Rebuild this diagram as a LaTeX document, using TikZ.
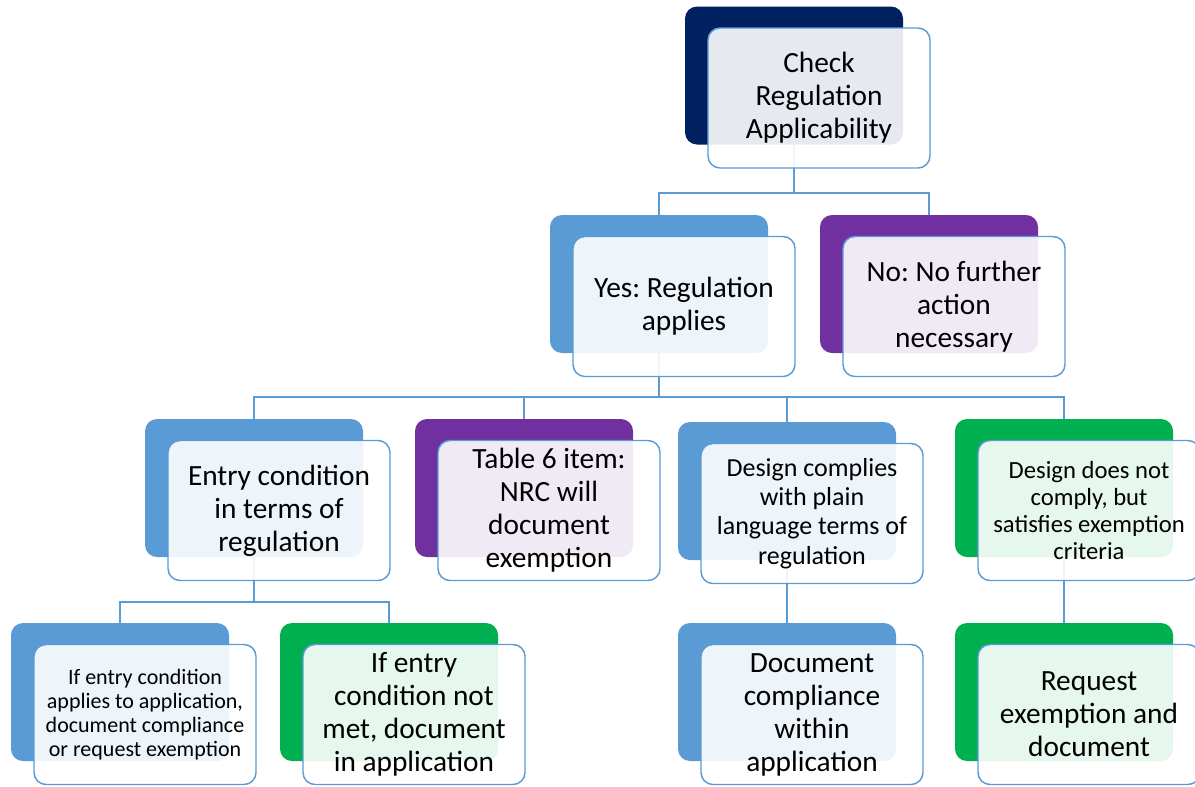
\documentclass[tikz,border=0pt]{standalone}
\usepackage{fontspec}
\setmainfont{Carlito}
\frenchspacing
\usetikzlibrary{positioning,calc}
\definecolor{navyC}{HTML}{002060}
\definecolor{blueC}{HTML}{5B9BD5}
\definecolor{purpC}{HTML}{7030A0}
\definecolor{greenC}{HTML}{00B050}
\definecolor{lineC}{HTML}{5B9BD5}

\begin{document}
\begin{tikzpicture}[x=0.75pt, y=-0.75pt,
    back/.style={rounded corners=9pt, minimum width=163.5pt, minimum height=103.5pt, inner sep=0pt},
    front/.style={draw=lineC, line width=1.1pt, rounded corners=9pt, fill=white, fill opacity=0.9, text opacity=1,
        minimum width=166.5pt, minimum height=105pt, inner sep=0pt, align=center},
    big/.style={font=\fontsize{22}{24.75}\selectfont},
    mid/.style={font=\fontsize{19.5}{22}\selectfont},
    small/.style={font=\fontsize{18.5}{20.25}\selectfont},
    tiny/.style={font=\fontsize{16.5}{18}\selectfont},
    conn/.style={draw=lineC, line width=1.1pt}]
    \useasboundingbox (0,0) rectangle (1195,786);

    % back boxes
    \node[back, fill=navyC] (chkB) at (794,75.5) {};
    \node[back, fill=blueC] (yesB) at (659,284) {};
    \node[back, fill=purpC] (noB) at (929,284) {};
    \node[back, fill=blueC] (entryB) at (254,488) {};
    \node[back, fill=purpC] (tabB) at (524,488) {};
    \node[back, fill=blueC] (compB) at (787,491) {};
    \node[back, fill=greenC] (ncompB) at (1064,488) {};
    \node[back, fill=blueC] (ifappB) at (120,692) {};
    \node[back, fill=greenC] (ifnotB) at (389,692) {};
    \node[back, fill=blueC] (docB) at (787,692) {};
    \node[back, fill=greenC] (reqB) at (1064,692) {};

    % connectors
    \coordinate (barA) at (0,193);
    \coordinate (barB) at (0,397);
    \coordinate (barC) at (0,602);
    \draw[conn] (chkB.south) -- (chkB.south |- barA);
    \draw[conn] (yesB.north) -- (yesB.north |- barA) -- (noB.north |- barA) -- (noB.north);
    \draw[conn] (yesB.south) -- (yesB.south |- barB);
    \draw[conn] (entryB.north) -- (entryB.north |- barB) -- (ncompB.north |- barB) -- (ncompB.north);
    \draw[conn] (tabB.north) -- (tabB.north |- barB);
    \draw[conn] (compB.north) -- (compB.north |- barB);
    \draw[conn] (entryB.south) -- (entryB.south |- barC);
    \draw[conn] (ifappB.north) -- (ifappB.north |- barC) -- (ifnotB.north |- barC) -- (ifnotB.north);
    \draw[conn] (compB.south) -- (docB.north);
    \draw[conn] (ncompB.south) -- (reqB.north);

    % front boxes
    \node[front, big] (chk) at ([shift={(25,22.5)}]chkB) {Check\\Regulation\\Applicability};
    \node[front, big] (yes) at ([shift={(25,22.5)}]yesB) {Yes: Regulation\\applies};
    \node[front, big] (no) at ([shift={(25,22.5)}]noB) {No: No further\\action\\necessary};
    \node[front, big] (entry) at ([shift={(25,22.5)}]entryB) {Entry condition\\in terms of\\regulation};
    \node[front, big] (tab) at ([shift={(25,22.5)}]tabB) {Table 6 item:\\NRC will\\document\\exemption};
    \node[front, mid] (comp) at ([shift={(25,22.5)}]compB) {Design complies\\with plain\\language terms of\\regulation};
    \node[front, small] (ncomp) at ([shift={(25,22.5)}]ncompB) {Design does not\\comply, but\\satisfies exemption\\criteria};
    \node[front, tiny] (ifapp) at ([shift={(25,22.5)}]ifappB) {If entry condition\\applies to application,\\document compliance\\or request exemption};
    \node[front, big] (ifnot) at ([shift={(25,22.5)}]ifnotB) {If entry\\condition not\\met, document\\in application};
    \node[front, big] (doc) at ([shift={(25,22.5)}]docB) {Document\\compliance\\within\\application};
    \node[front, big] (req) at ([shift={(25,22.5)}]reqB) {Request\\exemption and\\document};
\end{tikzpicture}
\end{document}
